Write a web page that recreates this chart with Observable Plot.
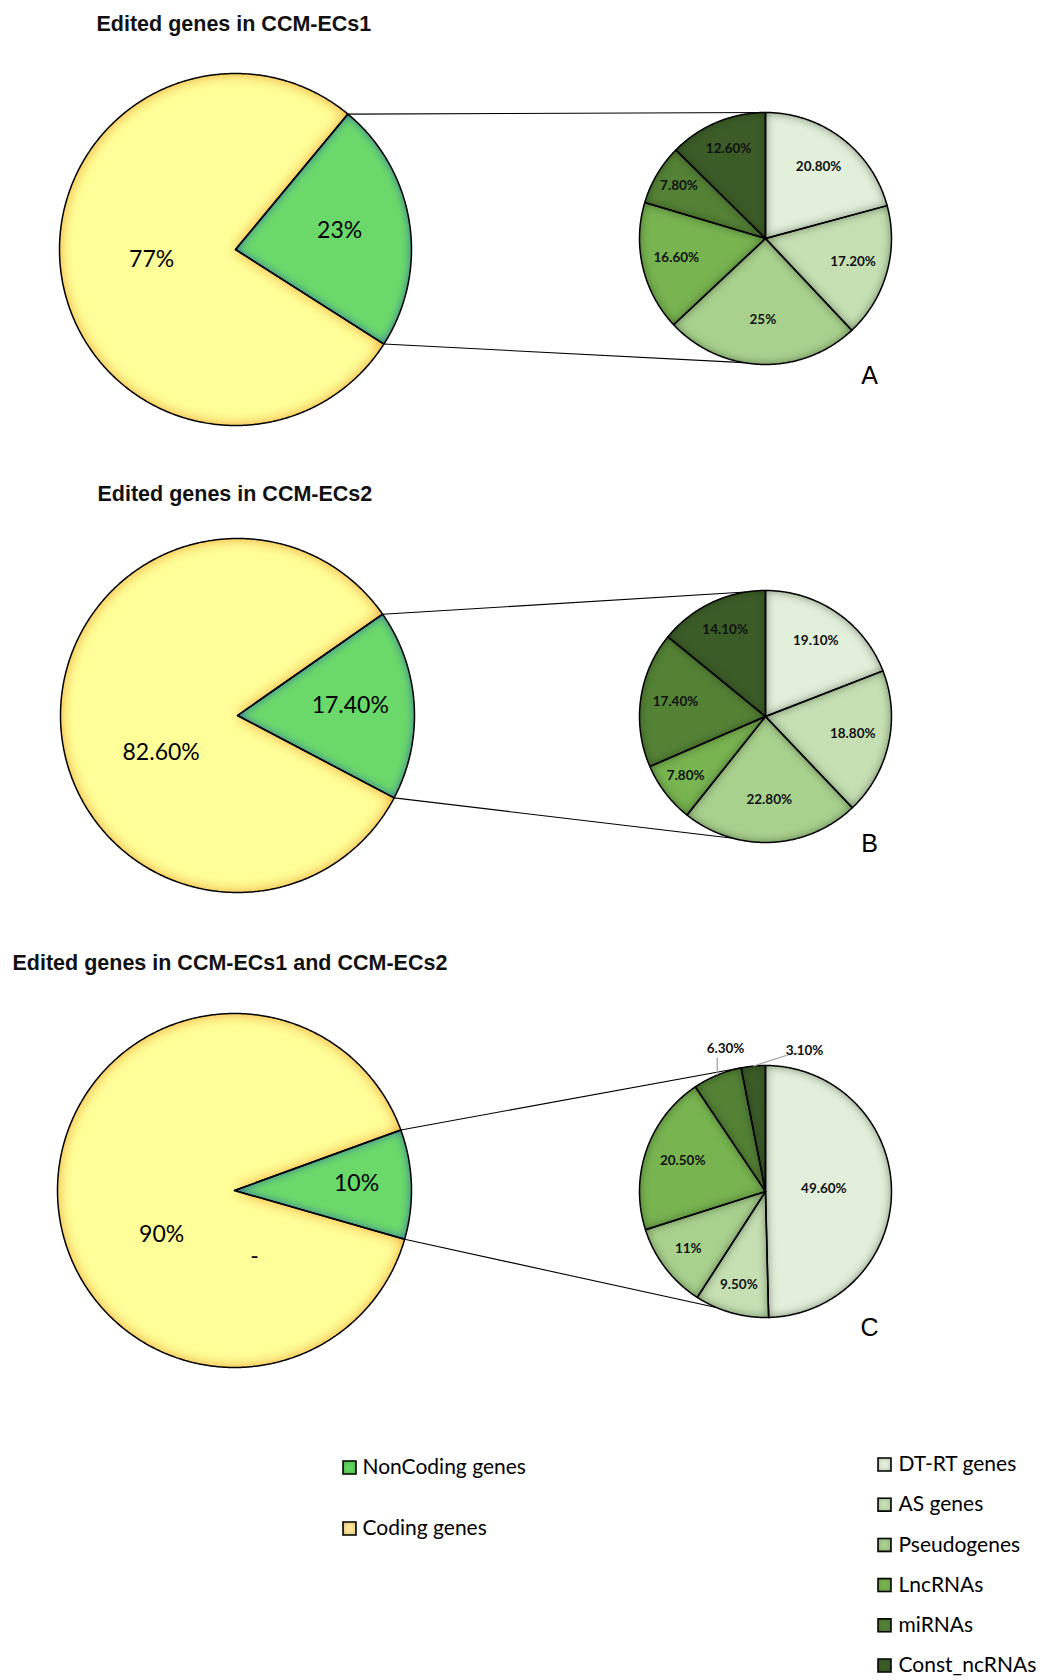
<!DOCTYPE html>
<html>
<head>
<meta charset="utf-8">
<script src="https://cdn.jsdelivr.net/npm/d3@7"></script>
<script src="https://cdn.jsdelivr.net/npm/@observablehq/plot@0.6"></script>
<style>
  html, body { margin: 0; padding: 0; background: #fff; }
  #chart svg { display: block; }
</style>
</head>
<body>
<div id="chart"></div>
<script>
// ---- Data ----------------------------------------------------------------
const panelIds = ["A", "B", "C"];
const panelTitles = [
  "Edited genes in CCM-ECs1",
  "Edited genes in CCM-ECs2",
  "Edited genes in CCM-ECs1 and CCM-ECs2"
];

const mainCategories = ["NonCoding genes", "Coding genes"];
const mainValuesA = [23, 77];
const mainValuesB = [17.4, 82.6];
const mainValuesC = [10, 90];

const subCategories = ["DT-RT genes", "AS genes", "Pseudogenes", "LncRNAs", "miRNAs", "Const_ncRNAs"];
const subValuesA = [20.8, 17.2, 25, 16.6, 7.8, 12.6];
const subValuesB = [19.1, 18.8, 22.8, 7.8, 17.4, 14.1];
const subValuesC = [49.6, 9.5, 11, 20.5, 6.3, 3.1];

// ---- Styles --------------------------------------------------------------
const mainColors = ["#6bd96a", "#ffff99"];
const mainKeyColors = ["#5fd65f", "#ffe699"];
const subColors = ["#e2efda", "#c6e0b4", "#a9d18e", "#78b450", "#548235", "#3b5c27"];
const W = 1054, H = 1680;

// ---- Layout (pixels) -----------------------------------------------------
// start: compass angle where the NonCoding wedge begins on the main pie
// links: compass angles where the connector lines meet the breakdown pie
const layout = [
  {titleX: 96, titleY: 24, cx: 235, cy: 249, r: 176, sx: 765, sy: 238, sr: 126,
   start: 39.7, links: [0, 190], codingLabelAngle: 263, letterY: 375},
  {titleX: 97, titleY: 494, cx: 237, cy: 715, r: 177, sx: 765, sy: 716, sr: 126,
   start: 55.1, links: [351, 195], codingLabelAngle: 244, letterY: 843},
  {titleX: 12, titleY: 963, cx: 234, cy: 1190, r: 177, sx: 765, sy: 1191, sr: 126,
   start: 70, links: [349, 203], codingLabelAngle: 239, letterY: 1327,
   outside: {4: {dx: -40, dy: -143, anchor: "middle"}, 5: {dx: 39, dy: -141, anchor: "start"}},
   notes: [{text: "-", dx: 20, dy: 66}]}
];
const letterX = 869;
const keyLeft = {x: 349, text: 362, rows: [1467, 1528]};
const keyRight = {x: 884, text: 898, y0: 1464, step: 40.2};

// ---- Geometry helpers ----------------------------------------------------
const rad = d => d * Math.PI / 180;
const polar = (cx, cy, r, deg) => [cx + r * Math.sin(rad(deg)), cy - r * Math.cos(rad(deg))];
const pct = v => (Number.isInteger(v) ? String(v) : v.toFixed(2)) + "%";

// closed wedge outline: centre, then the arc from a0 to a1 (compass degrees)
function sector(key, kind, fill, cx, cy, r, a0, a1) {
  const pts = [{key, kind, fill, x: cx, y: cy}];
  const n = Math.max(4, Math.ceil((a1 - a0) / 0.5));
  for (let i = 0; i <= n; i++) {
    const [x, y] = polar(cx, cy, r, a0 + (a1 - a0) * i / n);
    pts.push({key, kind, fill, x, y});
  }
  return pts;
}

const mainValues = [mainValuesA, mainValuesB, mainValuesC];
const subValues = [subValuesA, subValuesB, subValuesC];

const slices = [], links = [], bigLabels = [], smallLabels = [], leaders = [], titles = [], letters = [], notes = [];

panelIds.forEach((id, p) => {
  const L = layout[p];
  const [nc, cod] = mainValues[p];
  const a0 = L.start, a1 = L.start + nc * 3.6, a2 = a1 + cod * 3.6;

  slices.push(...sector(`${id}-nc`, "noncoding", mainColors[0], L.cx, L.cy, L.r, a0, a1));
  slices.push(...sector(`${id}-c`, "coding", mainColors[1], L.cx, L.cy, L.r, a1, a2));

  // connector lines between the NonCoding wedge and the breakdown pie
  [[a0, L.links[0]], [a1, L.links[1]]].forEach(([am, as]) => {
    const [x1, y1] = polar(L.cx, L.cy, L.r, am);
    const [x2, y2] = polar(L.sx, L.sy, L.sr, as);
    links.push({x1, y1, x2, y2});
  });

  // main pie labels
  {
    const [x, y] = polar(L.cx, L.cy, L.r * (0.76 - 0.007 * nc), (a0 + a1) / 2);
    bigLabels.push({x, y: y - 3, text: pct(nc)});
    const [xc, yc] = polar(L.cx, L.cy, L.r * 0.48, L.codingLabelAngle);
    bigLabels.push({x: xc, y: yc, text: pct(cod)});
  }

  // breakdown pie, clockwise from twelve o'clock
  let acc = 0;
  subValues[p].forEach((v, i) => {
    const b0 = acc * 3.6, b1 = (acc + v) * 3.6;
    acc += v;
    slices.push(...sector(`${id}-s${i}`, "sub", subColors[i], L.sx, L.sy, L.sr, b0, b1));
    const mid = (b0 + b1) / 2;
    const out = L.outside && L.outside[i];
    if (out) {
      const lx = L.sx + out.dx, ly = L.sy + out.dy;
      const [px, py] = polar(L.sx, L.sy, L.sr, mid);
      smallLabels.push({x: lx, y: ly, text: pct(v), anchor: out.anchor});
      if (out.anchor === "middle") {
        leaders.push({key: `${id}-l${i}`, x: px, y: py}, {key: `${id}-l${i}`, x: px, y: ly + 9});
      } else {
        leaders.push({key: `${id}-l${i}`, x: px, y: py},
                     {key: `${id}-l${i}`, x: lx - 12, y: ly + 3},
                     {key: `${id}-l${i}`, x: lx - 4, y: ly + 3});
      }
    } else {
      const f = Math.max(0.45, 0.86 - 0.008 * v);
      const [x, y] = polar(L.sx, L.sy, L.sr * f, mid);
      smallLabels.push({x, y: y - 2, text: pct(v), anchor: "middle"});
    }
  });

  titles.push({x: L.titleX, y: L.titleY, text: panelTitles[p]});
  letters.push({x: letterX, y: L.letterY, text: id});
  (L.notes || []).forEach(n => notes.push({x: L.cx + n.dx, y: L.cy + n.dy, text: n.text}));
});

// legend entries
const keyItems = [
  ...mainCategories.map((c, i) => ({label: c, fill: mainKeyColors[i], x: keyLeft.x, tx: keyLeft.text, y: keyLeft.rows[i]})),
  ...subCategories.map((c, i) => ({label: c, fill: subColors[i], x: keyRight.x, tx: keyRight.text, y: keyRight.y0 + keyRight.step * i}))
];

// ---- Plot ----------------------------------------------------------------
const calibriLike = "Lato, 'Open Sans', sans-serif";
const arial = "'Liberation Sans', Arial, sans-serif";
const wedge = {x: "x", y: "y", z: "key", fill: "fill", stroke: "none", curve: "linear-closed"};
const chart = Plot.plot({
  width: W,
  height: H,
  margin: 0,
  x: {domain: [0, W], range: [0, W], axis: null},
  y: {domain: [0, H], range: [0, H], axis: null},
  color: {type: "identity"},
  style: {background: "#fff"},
  marks: [
    Plot.link(links, {x1: "x1", y1: "y1", x2: "x2", y2: "y2", stroke: "#000", strokeWidth: 1.1}),
    Plot.line(slices.filter(d => d.kind === "coding"), {...wedge, className: "coding-slice"}),
    Plot.line(slices.filter(d => d.kind === "noncoding"), {...wedge, className: "noncoding-slice"}),
    Plot.line(slices.filter(d => d.kind === "sub"), {...wedge, className: "sub-slice"}),
    Plot.line(slices, {x: "x", y: "y", z: "key", fill: "none", stroke: "#000", strokeWidth: 1.5, curve: "linear-closed"}),
    Plot.line(leaders, {x: "x", y: "y", z: "key", stroke: "#a6a6a6", strokeWidth: 1.3, strokeLinecap: "butt"}),
    Plot.text(bigLabels, {x: "x", y: "y", text: "text", fontSize: 23, fontFamily: calibriLike, fill: "#000"}),
    Plot.text(notes, {x: "x", y: "y", text: "text", fontSize: 23, fontFamily: calibriLike, fill: "#000"}),
    Plot.text(smallLabels, {x: "x", y: "y", text: "text", textAnchor: d => d.anchor, fontSize: 13.5, fontWeight: "bold", fontFamily: calibriLike, fill: "#111"}),
    Plot.text(titles, {x: "x", y: "y", text: "text", textAnchor: "start", fontSize: 21.5, fontWeight: "bold", fontFamily: arial, fill: "#111"}),
    Plot.text(letters, {x: "x", y: "y", text: "text", fontSize: 25, fontFamily: arial, fill: "#000"}),
    Plot.dot(keyItems, {x: "x", y: "y", symbol: "square", r: 7.3, fill: "fill", stroke: "#000", strokeWidth: 1.6, className: "key-swatch"}),
    Plot.text(keyItems, {x: "tx", y: "y", text: "label", textAnchor: "start", fontSize: 21, fontFamily: calibriLike, fill: "#000"})
  ]
});
document.getElementById("chart").appendChild(chart);

// ---- Soft inner shading of the wedges ------------------------------------
const svg = d3.select(chart);
const defs = svg.insert("defs", ":first-child");
function innerGlow(id, color, opacity, blur) {
  const f = defs.append("filter").attr("id", id)
    .attr("x", "-30%").attr("y", "-30%").attr("width", "160%").attr("height", "160%")
    .attr("color-interpolation-filters", "sRGB");
  f.append("feFlood").attr("flood-color", color).attr("flood-opacity", opacity).attr("result", "flood");
  f.append("feComposite").attr("in", "flood").attr("in2", "SourceAlpha").attr("operator", "out").attr("result", "outside");
  f.append("feGaussianBlur").attr("in", "outside").attr("stdDeviation", blur).attr("result", "blur");
  f.append("feComposite").attr("in", "blur").attr("in2", "SourceAlpha").attr("operator", "in").attr("result", "inner");
  const m = f.append("feMerge");
  m.append("feMergeNode").attr("in", "SourceGraphic");
  m.append("feMergeNode").attr("in", "inner");
}
innerGlow("glow-coding", "#f0a030", 1, 7);
innerGlow("glow-noncoding", "#2f67a6", 1, 5);
innerGlow("shade-sub", "#1a2a10", 0.55, 5);
innerGlow("shade-key", "#1a2a10", 0.5, 2.5);
svg.selectAll("g.coding-slice path").attr("filter", "url(#glow-coding)");
svg.selectAll("g.noncoding-slice path").attr("filter", "url(#glow-noncoding)");
svg.selectAll("g.sub-slice path").attr("filter", "url(#shade-sub)");
svg.selectAll("g.key-swatch path").attr("filter", "url(#shade-key)");
</script>
</body>
</html>
